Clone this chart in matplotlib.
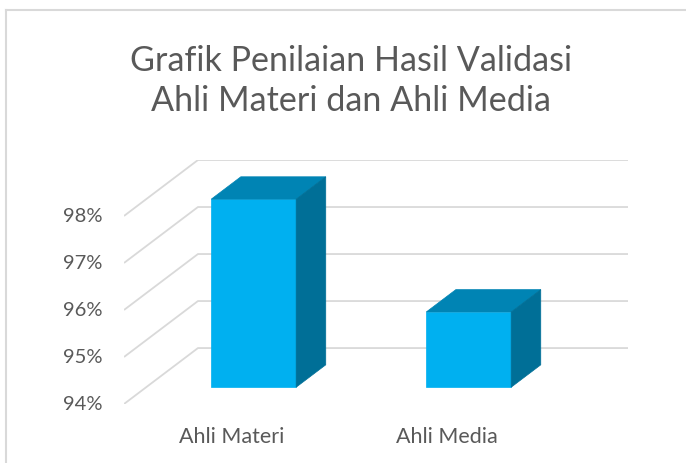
import matplotlib
matplotlib.use("Agg")
import matplotlib.pyplot as plt
from matplotlib.patches import Polygon, Rectangle

# data
kategori = ["Ahli Materi", "Ahli Media"]
nilai = [98.0, 95.6]
ticks_y = [94, 95, 96, 97, 98]
judul = "Grafik Penilaian Hasil Validasi\nAhli Materi dan Ahli Media"

# 3d look (oblique projection in data units)
DX = 0.344    # shift in category units at full depth
DY = 1.19     # shift in percent units at full depth
D0, D1 = 0.3, 0.7
LEBAR = 0.395
Y0 = 94

C_DEPAN = "#00B0F0"
C_ATAS = "#0084B4"
C_SAMPING = "#006F97"
C_GRID = "#D9D9D9"
C_TEKS = "#595959"

plt.rcParams["font.family"] = ["Lato", "DejaVu Sans"]

fig = plt.figure(figsize=(6.86, 4.64), dpi=100)
fig.patch.set_facecolor("white")

# chart border (top and left visible)
fig.add_artist(plt.Line2D([6 / 686, 6 / 686], [0, 1 - 10.5 / 464],
                          transform=fig.transFigure, color="#D9D9D9", lw=1.5))
fig.add_artist(plt.Line2D([6 / 686, 1], [1 - 10.5 / 464, 1 - 10.5 / 464],
                          transform=fig.transFigure, color="#D9D9D9", lw=1.5))

ax = fig.add_axes([124 / 686, (464 - 405) / 464, 504 / 686, 244 / 464])
ax.set_xlim(0, len(kategori) + DX)
ax.set_ylim(Y0, ticks_y[-1] + DY)
ax.axis("off")

# gridlines: side wall + back wall
for t in ticks_y:
    ax.plot([0, DX, len(kategori) + DX], [t, t + DY, t + DY],
            color=C_GRID, lw=1.3, zorder=1, solid_capstyle="butt")
    ax.text(-0.1, t, f"{t}%", ha="right", va="center", fontsize=14.5,
            color=C_TEKS)

for i, (nama, v) in enumerate(zip(kategori, nilai)):
    c = i + 0.5
    x0, x1 = c - LEBAR / 2, c + LEBAR / 2
    # front face
    ax.add_patch(Rectangle((x0 + D0 * DX, Y0 + D0 * DY), LEBAR, v - Y0,
                           facecolor=C_DEPAN, edgecolor=C_DEPAN, lw=0.5, zorder=3))
    # top face
    ax.add_patch(Polygon([(x0 + D0 * DX, v + D0 * DY), (x1 + D0 * DX, v + D0 * DY),
                          (x1 + D1 * DX, v + D1 * DY), (x0 + D1 * DX, v + D1 * DY)],
                         closed=True, facecolor=C_ATAS, edgecolor=C_ATAS, lw=0.5, zorder=3))
    # side face
    ax.add_patch(Polygon([(x1 + D0 * DX, Y0 + D0 * DY), (x1 + D1 * DX, Y0 + D1 * DY),
                          (x1 + D1 * DX, v + D1 * DY), (x1 + D0 * DX, v + D0 * DY)],
                         closed=True, facecolor=C_SAMPING, edgecolor=C_SAMPING, lw=0.5, zorder=3))
    ax.text(c, Y0 - 0.68, nama, ha="center", va="center", fontsize=15.5,
            color=C_TEKS, clip_on=False)

fig.text(351 / 686, 1 - 81 / 464, judul, ha="center", va="center",
         fontsize=24.6, color=C_TEKS, linespacing=1.33)

fig.savefig("out.png", dpi=100)
